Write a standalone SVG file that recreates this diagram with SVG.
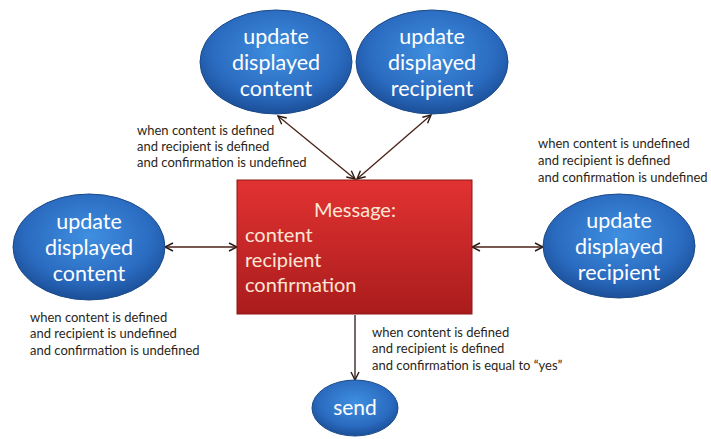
<svg xmlns="http://www.w3.org/2000/svg" width="711" height="439" viewBox="0 0 711 439">
<defs>
<radialGradient id="blue" cx="50%" cy="40%" r="60%">
<stop offset="0" stop-color="#3f8fe0"/>
<stop offset="0.7" stop-color="#2a6bc0"/>
<stop offset="1" stop-color="#1b4f98"/>
</radialGradient>
<linearGradient id="red" x1="0" y1="0" x2="0" y2="1">
<stop offset="0" stop-color="#e23232"/>
<stop offset="1" stop-color="#aa1c1c"/>
</linearGradient>
<marker id="ah" viewBox="0 0 10 10" refX="9" refY="5" markerWidth="10" markerHeight="10" markerUnits="userSpaceOnUse" orient="auto-start-reverse">
<path d="M1,1 L9,5 L1,9" fill="none" stroke="#2a1a14" stroke-width="1.4"/>
</marker>
</defs>
<style>
.ell{fill:url(#blue);stroke:#1c4a88;stroke-width:1}
.et{font-family:Lato,"Liberation Sans",sans-serif;font-size:21.5px;fill:#ffffff;text-anchor:middle}
.lb{font-family:Lato,"Liberation Sans",sans-serif;font-size:13px;fill:#2a1f1a}
.rt{font-family:Lato,"Liberation Sans",sans-serif;font-size:20px;fill:#fbe6d6}
.cn{stroke:#4a2218;stroke-width:1.3;fill:none;marker-start:url(#ah);marker-end:url(#ah)}
.cn1{stroke:#2a1a14;stroke-width:1.3;fill:none;marker-end:url(#ah)}
</style>
<rect width="711" height="439" fill="#ffffff"/>
<g id="connectors">
<line class="cn" x1="278" y1="116" x2="355" y2="179"/>
<line class="cn" x1="431" y1="115" x2="357" y2="179"/>
<line class="cn" x1="165" y1="247" x2="237" y2="247"/>
<line class="cn" x1="472" y1="247" x2="543" y2="247"/>
<line class="cn1" x1="355" y1="315" x2="355" y2="380"/>
</g>
<g id="msg">
<rect x="237" y="180" width="235" height="134" fill="url(#red)" stroke="#8c1616" stroke-width="1"/>
<text class="rt" x="355" y="217" text-anchor="middle">Message:</text>
<text class="rt" x="245" y="242">content</text>
<text class="rt" x="245" y="267">recipient</text>
<text class="rt" x="245" y="292">confirmation</text>
</g>
<g id="top-content">
<ellipse class="ell" cx="276" cy="62" rx="76" ry="52"/>
<text class="et" x="276" y="44">update</text>
<text class="et" x="276" y="70">displayed</text>
<text class="et" x="276" y="96">content</text>
</g>
<g id="top-recipient">
<ellipse class="ell" cx="432" cy="62" rx="76" ry="52"/>
<text class="et" x="432" y="44">update</text>
<text class="et" x="432" y="70">displayed</text>
<text class="et" x="432" y="96">recipient</text>
</g>
<g id="left-content">
<ellipse class="ell" cx="89" cy="247" rx="76" ry="53"/>
<text class="et" x="89" y="229">update</text>
<text class="et" x="89" y="255">displayed</text>
<text class="et" x="89" y="281">content</text>
</g>
<g id="right-recipient">
<ellipse class="ell" cx="619" cy="246" rx="76" ry="52"/>
<text class="et" x="619" y="228">update</text>
<text class="et" x="619" y="254">displayed</text>
<text class="et" x="619" y="280">recipient</text>
</g>
<g id="send">
<ellipse class="ell" cx="355" cy="408" rx="43" ry="28"/>
<text class="et" x="355" y="415" style="font-size:21px">send</text>
</g>
<g id="labels">
<text class="lb" x="137" y="135">when content is defined</text>
<text class="lb" x="137" y="151">and recipient is defined</text>
<text class="lb" x="137" y="167">and confirmation is undefined</text>
<text class="lb" x="538" y="148">when content is undefined</text>
<text class="lb" x="538" y="165">and recipient is defined</text>
<text class="lb" x="538" y="182">and confirmation is undefined</text>
<text class="lb" x="30" y="322">when content is defined</text>
<text class="lb" x="30" y="338">and recipient is undefined</text>
<text class="lb" x="30" y="355">and confirmation is undefined</text>
<text class="lb" x="372" y="337">when content is defined</text>
<text class="lb" x="372" y="353">and recipient is defined</text>
<text class="lb" x="372" y="370">and confirmation is equal to “yes”</text>
</g>
</svg>
